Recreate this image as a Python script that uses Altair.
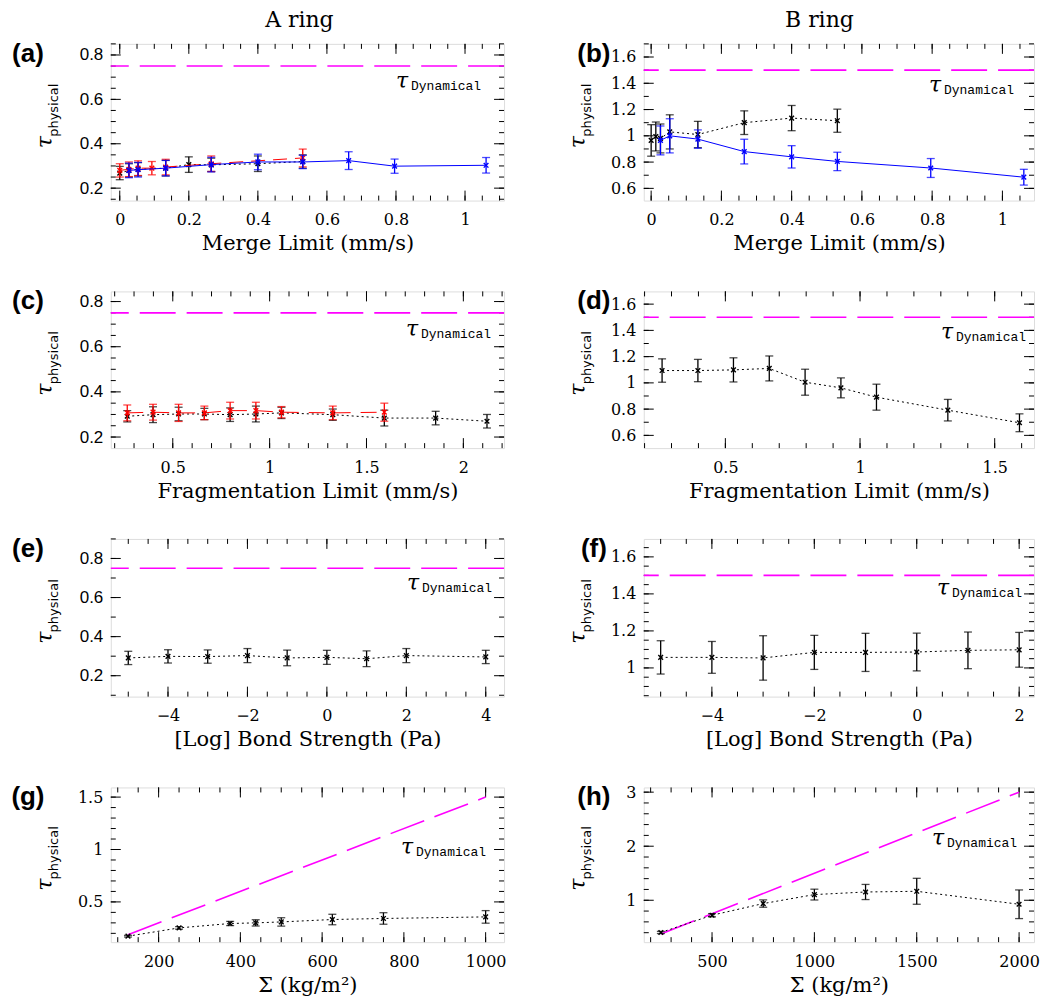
import altair as alt
import numpy as np
import pandas as pd

# ---------------- data ----------------
# (a) A ring, merge limit
a_blk_x = [0, 0.0265, 0.053, 0.133, 0.2, 0.265, 0.4, 0.53]
a_blk_y = [0.268, 0.28, 0.285, 0.29, 0.306, 0.305, 0.31, 0.32]
a_blk_e = [0.03, 0.03, 0.03, 0.035, 0.035, 0.03, 0.035, 0.03]
a_red_x = [0, 0.0265, 0.053, 0.093, 0.133, 0.265, 0.53]
a_red_y = [0.28, 0.285, 0.29, 0.29, 0.295, 0.31, 0.336]
a_red_e = [0.03, 0.033, 0.033, 0.03, 0.035, 0.035, 0.04]
a_blu_x = [0.0265, 0.053, 0.133, 0.265, 0.4, 0.53, 0.663, 0.796, 1.061]
a_blu_y = [0.28, 0.283, 0.29, 0.306, 0.318, 0.318, 0.324, 0.299, 0.303]
a_blu_e = [0.033, 0.033, 0.035, 0.033, 0.035, 0.03, 0.04, 0.032, 0.035]
# (b) B ring, merge limit
b_blk_x = [0, 0.0133, 0.0265, 0.053, 0.133, 0.265, 0.4, 0.53]
b_blk_y = [0.965, 0.995, 0.98, 1.03, 1.01, 1.10, 1.135, 1.115]
b_blk_e = [0.12, 0.11, 0.11, 0.13, 0.1, 0.09, 0.096, 0.088]
b_blu_x = [0.0265, 0.053, 0.133, 0.265, 0.4, 0.53, 0.796, 1.061]
b_blu_y = [0.965, 1.0, 0.975, 0.88, 0.84, 0.805, 0.755, 0.685]
b_blu_e = [0.11, 0.13, 0.07, 0.094, 0.085, 0.07, 0.072, 0.06]
# (c) A ring, fragmentation limit
c_blk_x = [0.265, 0.398, 0.53, 0.663, 0.796, 0.929, 1.061, 1.326, 1.592, 1.857, 2.122]
c_blk_y = [0.292, 0.299, 0.302, 0.302, 0.299, 0.302, 0.307, 0.299, 0.284, 0.284, 0.27]
c_blk_e = [0.025, 0.035, 0.03, 0.025, 0.03, 0.035, 0.025, 0.025, 0.035, 0.03, 0.03]
c_red_x = [0.265, 0.398, 0.53, 0.663, 0.796, 0.929, 1.061, 1.326, 1.592]
c_red_y = [0.307, 0.31, 0.307, 0.307, 0.317, 0.317, 0.31, 0.307, 0.31]
c_red_e = [0.035, 0.035, 0.038, 0.03, 0.037, 0.037, 0.025, 0.03, 0.04]
# (d) B ring, fragmentation limit
d_blk_x = [0.265, 0.398, 0.53, 0.663, 0.796, 0.929, 1.061, 1.326, 1.592]
d_blk_y = [1.094, 1.094, 1.099, 1.11, 1.005, 0.962, 0.891, 0.792, 0.696]
d_blk_e = [0.089, 0.085, 0.092, 0.095, 0.099, 0.076, 0.099, 0.082, 0.068]
# (e) A ring, bond strength
e_blk_x = [-5, -4, -3, -2, -1, 0, 1, 2, 4]
e_blk_y = [0.291, 0.299, 0.298, 0.303, 0.291, 0.294, 0.287, 0.303, 0.296]
e_blk_e = [0.034, 0.034, 0.034, 0.036, 0.04, 0.036, 0.04, 0.036, 0.034]
# (f) B ring, bond strength
f_blk_x = [-5, -4, -3, -2, -1, 0, 1, 2]
f_blk_y = [1.057, 1.057, 1.054, 1.084, 1.084, 1.086, 1.095, 1.098]
f_blk_e = [0.09, 0.086, 0.12, 0.092, 0.103, 0.102, 0.099, 0.094]
# (g) A ring, surface density
g_blk_x = [125, 250, 375, 437.5, 500, 625, 750, 1000]
g_blk_y = [0.173, 0.252, 0.294, 0.3, 0.309, 0.332, 0.342, 0.357]
g_blk_e = [0.008, 0.012, 0.02, 0.03, 0.04, 0.05, 0.055, 0.06]
g_dyn_x = [125, 1000]
g_dyn_y = [0.1875, 1.5]
# (h) B ring, surface density
h_blk_x = [250, 500, 750, 1000, 1250, 1500, 2000]
h_blk_y = [0.404, 0.723, 0.939, 1.105, 1.153, 1.166, 0.926]
h_blk_e = [0.02, 0.03, 0.068, 0.1, 0.14, 0.24, 0.265]
h_dyn_x = [250, 2000]
h_dyn_y = [0.375, 3.0]

tau_dyn_A = 0.75
tau_dyn_B = 1.5

# ---------------- style ----------------
SERIF = "DejaVu Serif"
SANS = "Liberation Sans"
MONO = "Liberation Mono"
MAG = "#ff00ff"
BLK = "#000000"
RED = "#ff0000"
BLU = "#0000ff"
XSHAPE = "M-1,-1L1,1M-1,1L1,-1"
LBL = "replace(toString(datum.value), '-', '\u2212')"
DYN_DASH = [36, 11]


def sdf(x, y, e):
    return pd.DataFrame({
        "x": x, "y": y,
        "lo": [a - b for a, b in zip(y, e)],
        "hi": [a + b for a, b in zip(y, e)],
    })


def tick_vals(step, dom):
    lo, hi = min(dom), max(dom)
    start = np.ceil(lo / step) * step
    vals = np.round(np.arange(start, hi + step * 0.01, step), 6)
    return [float(v) for v in vals if lo <= v <= hi]


def make_panel(p):
    W, H = p["W"], p["H"]
    xs = alt.Scale(domain=p["xdom"], nice=False, zero=False)
    ys = alt.Scale(domain=p["ydom"], nice=False, zero=False)
    xaxis = alt.Axis(values=p["xmajor"], ticks=False, domain=False, grid=False,
                     labelFont=SERIF, labelFontSize=16, labelPadding=11,
                     labelColor="black", labelExpr=LBL, labelFlush=False,
                     labelOverlap=False, title=p["xtitle"], titleFont=SERIF,
                     titleFontSize=21, titleFontWeight="normal",
                     titleColor="black", titlePadding=5)
    yaxis = alt.Axis(values=p["ymajor"], ticks=False, domain=False, grid=False,
                     labelFont=p["yfont"], labelFontSize=p["yfs"], labelPadding=8,
                     labelColor="black", labelExpr=LBL, labelFlush=False,
                     labelOverlap=False, title="")

    def X(f):
        return alt.X(f, scale=xs, axis=xaxis)

    def Y(f):
        return alt.Y(f, scale=ys, axis=yaxis)

    one = pd.DataFrame({"k": [0]})
    layers = []
    carrier = alt.Chart(pd.DataFrame({"x": [p["xdom"][0]], "y": [p["ydom"][0]]})).mark_point(
        opacity=0).encode(x=X("x:Q"), y=Y("y:Q"))
    layers.append(carrier)

    # inward ticks on all four sides
    for vals, L in [(p["ymajor"], 10), (tick_vals(p["ystep"], p["ydom"]), 5)]:
        d = pd.DataFrame({"y": vals})
        layers.append(alt.Chart(d).mark_rule(color="black", strokeWidth=1).encode(
            y=Y("y:Q"), x=alt.value(0), x2=alt.value(L)))
        layers.append(alt.Chart(d).mark_rule(color="black", strokeWidth=1).encode(
            y=Y("y:Q"), x=alt.value(W), x2=alt.value(W - L)))
    for vals, L in [(p["xmajor"], 10), (tick_vals(p["xstep"], p["xdom"]), 5)]:
        d = pd.DataFrame({"x": vals})
        layers.append(alt.Chart(d).mark_rule(color="black", strokeWidth=1).encode(
            x=X("x:Q"), y=alt.value(H), y2=alt.value(H - L)))
        layers.append(alt.Chart(d).mark_rule(color="black", strokeWidth=1).encode(
            x=X("x:Q"), y=alt.value(0), y2=alt.value(L)))

    # dynamical optical depth
    if "dyn" in p:
        layers.append(alt.Chart(pd.DataFrame({"y": [p["dyn"]]})).mark_rule(
            color=MAG, strokeWidth=1.6, strokeDash=DYN_DASH).encode(y=Y("y:Q")))
    else:
        layers.append(alt.Chart(pd.DataFrame({"x": p["dynx"], "y": p["dyny"]})).mark_line(
            color=MAG, strokeWidth=1.6, strokeDash=DYN_DASH).encode(
            x=X("x:Q"), y=Y("y:Q")))

    for df, col, dash in p["series"]:
        lk = dict(color=col, strokeWidth=1)
        if dash:
            lk["strokeDash"] = dash
        layers.append(alt.Chart(df).mark_line(**lk).encode(x=X("x:Q"), y=Y("y:Q")))
        layers.append(alt.Chart(df).mark_rule(color=col, strokeWidth=1.3).encode(
            x=X("x:Q"), y=Y("lo:Q"), y2="hi:Q"))
        for c in ["lo", "hi"]:
            layers.append(alt.Chart(df).mark_tick(color=col, orient="horizontal",
                                                  size=8, thickness=1.3).encode(
                x=X("x:Q"), y=Y(c + ":Q")))
        layers.append(alt.Chart(df).mark_point(shape=XSHAPE, size=22, filled=False,
                                               color=col, strokeWidth=1.4, opacity=1).encode(
            x=X("x:Q"), y=Y("y:Q")))

    # tau_Dynamical label
    xr, yc = p["dynlab"]
    layers.append(alt.Chart(one).mark_text(text="Dynamical", font=MONO, fontSize=13,
                                           align="right", baseline="middle",
                                           color="black").encode(
        x=alt.value(xr), y=alt.value(yc)))
    layers.append(alt.Chart(one).mark_text(text="\u03c4", font=SERIF, fontSize=22,
                                           fontStyle="italic", align="right",
                                           baseline="middle", color="black").encode(
        x=alt.value(xr - 73), y=alt.value(yc - 5)))

    # y title tau_physical
    layers.append(alt.Chart(one).mark_text(text="\u03c4", font=SERIF, fontSize=22,
                                           fontStyle="italic", angle=270, align="center",
                                           baseline="middle", color="black").encode(
        x=alt.value(-66), y=alt.value(H / 2 + 20)))
    layers.append(alt.Chart(one).mark_text(text="physical", font="DejaVu Sans", fontSize=13,
                                           angle=270, align="center",
                                           baseline="middle", color="black").encode(
        x=alt.value(-57), y=alt.value(H / 2 - 12)))

    # panel label
    layers.append(alt.Chart(one).mark_text(text=p["label"], font=SANS, fontWeight="bold",
                                           fontSize=26, align="center", baseline="middle",
                                           color="black").encode(
        x=alt.value(p["labx"]), y=alt.value(10)))
    if "coltitle" in p:
        layers.append(alt.Chart(one).mark_text(text=p["coltitle"], font=SERIF, fontSize=22,
                                               align="center", baseline="middle",
                                               color="black").encode(
            x=alt.value(p["coltx"]), y=alt.value(-24)))

    return alt.layer(*layers).properties(width=W, height=H)


WL, WR = 394, 391
panels = [
    dict(W=WL, H=157, xdom=[-0.026, 1.113], ydom=[0.144, 0.85],
         xmajor=[0, 0.2, 0.4, 0.6, 0.8, 1], xstep=0.05,
         ymajor=[0.2, 0.4, 0.6, 0.8], ystep=0.05, yfont=SANS, yfs=17,
         xtitle="Merge Limit (mm/s)", dyn=tau_dyn_A, dynlab=(371, 42),
         label="(a)", labx=-83, coltitle="A ring", coltx=189,
         series=[(sdf(a_blk_x, a_blk_y, a_blk_e), BLK, [2, 3]),
                 (sdf(a_red_x, a_red_y, a_red_e), RED, [14, 8]),
                 (sdf(a_blu_x, a_blu_y, a_blu_e), BLU, None)]),
    dict(W=WR, H=157, xdom=[-0.021, 1.09], ydom=[0.507, 1.7],
         xmajor=[0, 0.2, 0.4, 0.6, 0.8, 1], xstep=0.05,
         ymajor=[0.6, 0.8, 1, 1.2, 1.4, 1.6], ystep=0.1, yfont=SERIF, yfs=16,
         xtitle="Merge Limit (mm/s)", dyn=tau_dyn_B, dynlab=(371, 46),
         label="(b)", labx=-50, coltitle="B ring", coltx=176,
         series=[(sdf(b_blk_x, b_blk_y, b_blk_e), BLK, [2, 3]),
                 (sdf(b_blu_x, b_blu_y, b_blu_e), BLU, None)]),
    dict(W=WL, H=157, xdom=[0.18, 2.21], ydom=[0.151, 0.845],
         xmajor=[0.5, 1, 1.5, 2], xstep=0.1,
         ymajor=[0.2, 0.4, 0.6, 0.8], ystep=0.05, yfont=SANS, yfs=17,
         xtitle="Fragmentation Limit (mm/s)", dyn=tau_dyn_A, dynlab=(381, 43),
         label="(c)", labx=-83,
         series=[(sdf(c_blk_x, c_blk_y, c_blk_e), BLK, [2, 3]),
                 (sdf(c_red_x, c_red_y, c_red_e), RED, [16, 10])]),
    dict(W=WR, H=157, xdom=[0.197, 1.646], ydom=[0.503, 1.697],
         xmajor=[0.5, 1, 1.5], xstep=0.1,
         ymajor=[0.6, 0.8, 1, 1.2, 1.4, 1.6], ystep=0.1, yfont=SERIF, yfs=16,
         xtitle="Fragmentation Limit (mm/s)", dyn=tau_dyn_B, dynlab=(383, 46),
         label="(d)", labx=-50,
         series=[(sdf(d_blk_x, d_blk_y, d_blk_e), BLK, [2, 3])]),
    dict(W=WL, H=158, xdom=[-5.44, 4.46], ydom=[0.093, 0.9],
         xmajor=[-4, -2, 0, 2, 4], xstep=0.5,
         ymajor=[0.2, 0.4, 0.6, 0.8], ystep=0.1, yfont=SANS, yfs=17,
         xtitle="[Log] Bond Strength (Pa)", dyn=tau_dyn_A, dynlab=(382, 49),
         label="(e)", labx=-83,
         series=[(sdf(e_blk_x, e_blk_y, e_blk_e), BLK, [2, 3])]),
    dict(W=WR, H=158, xdom=[-5.33, 2.29], ydom=[0.845, 1.697],
         xmajor=[-4, -2, 0, 2], xstep=0.5,
         ymajor=[1, 1.2, 1.4, 1.6], ystep=0.05, yfont=SERIF, yfs=16,
         xtitle="[Log] Bond Strength (Pa)", dyn=tau_dyn_B, dynlab=(379, 54),
         label="(f)", labx=-50,
         series=[(sdf(f_blk_x, f_blk_y, f_blk_e), BLK, [2, 3])]),
    dict(W=WL, H=155, xdom=[83, 1045], ydom=[0.116, 1.592],
         xmajor=[200, 400, 600, 800, 1000], xstep=50,
         ymajor=[0.5, 1, 1.5], ystep=0.1, yfont=SERIF, yfs=16,
         xtitle="\u03a3 (kg/m\u00b2)", dynx=g_dyn_x, dyny=g_dyn_y, dynlab=(376, 65),
         label="(g)", labx=-83,
         series=[(sdf(g_blk_x, g_blk_y, g_blk_e), BLK, [2, 3])]),
    dict(W=WR, H=155, xdom=[166.5, 2073], ydom=[0.225, 3.087],
         xmajor=[500, 1000, 1500, 2000], xstep=100,
         ymajor=[1, 2, 3], ystep=0.2, yfont=SERIF, yfs=16,
         xtitle="\u03a3 (kg/m\u00b2)", dynx=h_dyn_x, dyny=h_dyn_y, dynlab=(374, 56),
         label="(h)", labx=-50,
         series=[(sdf(h_blk_x, h_blk_y, h_blk_e), BLK, [2, 3])]),
]

charts = [make_panel(p) for p in panels]

chart = alt.concat(*charts, columns=2, spacing={"row": 91, "column": 140},
                   bounds="flush", align="each").properties(
    padding={"left": 10, "top": 7, "right": 5, "bottom": 5}
).configure_view(stroke="black", strokeWidth=1.5).configure(background="white")

chart.save("out.html", embed_options={"renderer": "svg", "actions": False})
